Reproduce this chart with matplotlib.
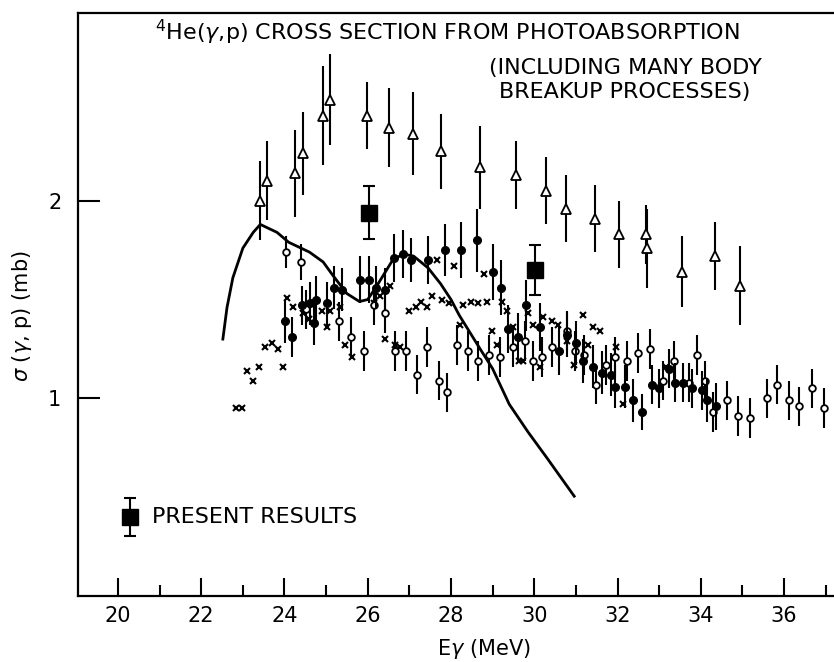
import matplotlib.pyplot as plt
from matplotlib.ticker import FixedLocator

# theoretical curve (solid line)
curve_x = [22.52, 22.62, 22.76, 23.0, 23.25, 23.42, 23.82, 24.1, 24.6, 24.93, 25.17,
           25.5, 25.8, 26.0, 26.22, 26.6, 26.85, 27.1, 27.45, 27.75, 28.0, 28.2,
           28.7, 29.0, 29.4, 29.85, 30.3, 30.96]
curve_y = [1.30, 1.46, 1.61, 1.76, 1.84, 1.88, 1.84, 1.79, 1.74, 1.69, 1.62,
           1.53, 1.49, 1.50, 1.57, 1.70, 1.73, 1.72, 1.66, 1.58, 1.50, 1.42,
           1.25, 1.15, 0.97, 0.83, 0.70, 0.505]

# open triangles (photoabsorption incl. many body breakup)
tri_x = [23.41, 23.57, 24.25, 24.44, 24.92, 25.10, 25.99, 26.51, 27.09, 27.76, 28.69,
         29.57, 30.29, 30.76, 31.47, 32.03, 32.68, 32.71, 33.55, 34.33, 34.95]
tri_y = [2.00, 2.10, 2.14, 2.24, 2.43, 2.51, 2.43, 2.37, 2.34, 2.25, 2.17,
         2.13, 2.05, 1.96, 1.91, 1.83, 1.83, 1.76, 1.64, 1.72, 1.57]
tri_err = [0.20, 0.20, 0.22, 0.21, 0.25, 0.23, 0.17, 0.20, 0.21, 0.19, 0.21,
           0.17, 0.17, 0.17, 0.17, 0.17, 0.15, 0.20, 0.18, 0.17, 0.20]

# present results
sq_x = [26.03, 30.02]
sq_y = [1.94, 1.65]
sq_err = [0.135, 0.125]

# filled circles
fc_x = [24.02, 24.18, 24.43, 24.62, 24.76, 24.72, 25.02, 25.18, 25.38, 25.82, 26.02,
        26.20, 26.42, 26.64, 26.84, 27.05, 27.45, 27.86, 28.23, 28.63, 29.02, 29.20,
        29.80, 29.38, 29.60, 30.14, 30.60, 30.78, 31.00, 31.18, 31.40, 31.62, 31.85,
        31.95, 32.18, 32.36, 32.58, 32.82, 33.00, 33.24, 33.37, 33.58, 33.80, 34.02,
        34.16, 34.36]
fc_y = [1.39, 1.31, 1.47, 1.48, 1.50, 1.38, 1.48, 1.56, 1.55, 1.60, 1.60,
        1.56, 1.55, 1.71, 1.73, 1.70, 1.70, 1.75, 1.75, 1.80, 1.64, 1.56,
        1.47, 1.35, 1.31, 1.36, 1.24, 1.32, 1.28, 1.19, 1.16, 1.13, 1.12,
        1.06, 1.06, 0.99, 0.93, 1.07, 1.05, 1.15, 1.08, 1.08, 1.05, 1.04,
        0.99, 0.96]
fc_err = [0.11, 0.10, 0.10, 0.11, 0.12, 0.11, 0.11, 0.11, 0.11, 0.12, 0.12,
          0.11, 0.11, 0.12, 0.12, 0.11, 0.12, 0.13, 0.14, 0.16, 0.14, 0.14,
          0.13, 0.12, 0.12, 0.12, 0.12, 0.11, 0.11, 0.11, 0.11, 0.11, 0.11,
          0.11, 0.11, 0.11, 0.09, 0.10, 0.10, 0.10, 0.10, 0.10, 0.10, 0.10,
          0.11, 0.12]

# open circles
oc_x = [24.04, 24.40, 24.52, 25.31, 25.61, 25.90, 26.14, 26.41, 26.66, 26.93, 27.18,
        27.43, 27.71, 27.91, 28.15, 28.41, 28.65, 28.92, 29.18, 29.48, 29.78, 29.97,
        30.18, 30.42, 30.79, 30.98, 31.19, 31.49, 31.72, 31.95, 32.23, 32.48, 32.79,
        33.10, 33.35, 33.72, 33.90, 34.09, 34.30, 34.62, 34.89, 35.19, 35.58, 35.82,
        36.13, 36.37, 36.67, 36.95]
oc_y = [1.74, 1.69, 1.45, 1.39, 1.31, 1.24, 1.47, 1.43, 1.24, 1.24, 1.12,
        1.26, 1.09, 1.03, 1.27, 1.24, 1.19, 1.22, 1.21, 1.26, 1.29, 1.19,
        1.21, 1.26, 1.34, 1.24, 1.22, 1.07, 1.17, 1.21, 1.19, 1.23, 1.25,
        1.09, 1.19, 1.08, 1.22, 1.09, 0.93, 0.99, 0.91, 0.90, 1.00, 1.07,
        0.99, 0.96, 1.05, 0.95]
oc_err = [0.08, 0.09, 0.10, 0.10, 0.10, 0.10, 0.10, 0.10, 0.10, 0.10, 0.10,
          0.10, 0.10, 0.10, 0.10, 0.10, 0.10, 0.10, 0.10, 0.10, 0.10, 0.10,
          0.10, 0.10, 0.10, 0.10, 0.10, 0.10, 0.10, 0.10, 0.10, 0.10, 0.10,
          0.10, 0.10, 0.10, 0.10, 0.10, 0.10, 0.10, 0.10, 0.10, 0.10, 0.10,
          0.10, 0.10, 0.10, 0.10]

# crosses (no error bars)
xx_x = [22.84, 22.97, 23.09, 23.24, 23.39, 23.53, 23.69, 23.84, 23.97, 24.06, 24.21,
        24.45, 24.60, 24.90, 25.02, 25.10, 25.34, 25.46, 25.63, 26.14, 26.30, 26.53,
        26.42, 26.66, 26.78, 26.98, 27.15, 27.29, 27.43, 27.55, 27.67, 27.79, 27.95,
        28.08, 28.22, 28.30, 28.48, 28.66, 28.86, 28.80, 28.99, 29.11, 29.22, 29.35,
        29.50, 29.63, 29.73, 29.85, 29.97, 30.13, 30.22, 30.42, 30.57, 30.78, 30.96,
        31.18, 31.30, 31.42, 31.59, 31.97, 32.12, 33.17]
xx_y = [0.95, 0.95, 1.14, 1.09, 1.16, 1.26, 1.28, 1.25, 1.16, 1.51, 1.46,
        1.43, 1.40, 1.44, 1.36, 1.44, 1.46, 1.27, 1.21, 1.48, 1.52, 1.57,
        1.30, 1.27, 1.26, 1.44, 1.46, 1.49, 1.46, 1.52, 1.70, 1.50, 1.48,
        1.67, 1.37, 1.47, 1.49, 1.48, 1.49, 1.63, 1.34, 1.27, 1.49, 1.44,
        1.36, 1.19, 1.19, 1.43, 1.37, 1.16, 1.41, 1.39, 1.37, 1.29, 1.17,
        1.42, 1.27, 1.36, 1.34, 1.26, 0.97, 1.16]

x_major = [20, 22, 24, 26, 28, 30, 32, 34, 36]
x_minor = [21, 23, 25, 27, 29, 31, 33, 35, 37]
y_major = [1, 2]


def draw(ax):
    eb = dict(ecolor="black", elinewidth=1.5, capsize=0, linestyle="none")
    ax.errorbar(oc_x, oc_y, yerr=oc_err, fmt="o", ms=4.8, mfc="white",
                mec="black", mew=1.3, zorder=3, **eb)
    ax.plot(xx_x, xx_y, "x", ms=4.5, mew=1.5, color="black", zorder=3)
    ax.errorbar(fc_x, fc_y, yerr=fc_err, fmt="o", ms=5.5, mfc="black",
                mec="black", zorder=4, **eb)
    ax.errorbar(tri_x, tri_y, yerr=tri_err, fmt="^", ms=7.5, mfc="white",
                mec="black", mew=1.3, zorder=4, **eb)
    ax.errorbar(sq_x, sq_y, yerr=sq_err, fmt="s", ms=11, mfc="black", mec="black",
                ecolor="black", elinewidth=1.5, capsize=4, capthick=1.5,
                linestyle="none", zorder=5)
    ax.plot(curve_x, curve_y, "-", color="black", lw=2.0, zorder=6)

    # legend entry
    ax.errorbar([20.3], [0.40], yerr=[0.097], fmt="s", ms=11, mfc="black",
                mec="black", ecolor="black", elinewidth=1.5, capsize=4,
                capthick=1.5, linestyle="none")
    ax.text(20.82, 0.40, "PRESENT RESULTS", fontsize=16, va="center", ha="left")

    ax.text(0.488, 0.966, r"$^{4}$He($\gamma$,p) CROSS SECTION FROM PHOTOABSORPTION",
            transform=ax.transAxes, fontsize=16, ha="center", va="center")
    ax.text(0.7235, 0.906, "(INCLUDING MANY BODY", transform=ax.transAxes,
            fontsize=16, ha="center", va="center")
    ax.text(0.7235, 0.865, "BREAKUP PROCESSES)", transform=ax.transAxes,
            fontsize=16, ha="center", va="center")


fig = plt.figure(figsize=(8.34, 6.62), dpi=100)
ax = fig.add_axes([0.0935, 0.0997, 0.9065, 0.8807])
draw(ax)

ax.set_xlim(19.04, 37.2)
ax.set_ylim(0, 2.95)
ax.xaxis.set_major_locator(FixedLocator(x_major))
ax.xaxis.set_minor_locator(FixedLocator(x_minor))
ax.yaxis.set_major_locator(FixedLocator(y_major))
ax.set_yticklabels(["1", "2"])
ax.tick_params(axis="x", which="major", direction="in", length=13, width=1.5,
               labelsize=15, pad=7)
ax.tick_params(axis="x", which="minor", direction="in", length=8, width=1.5)
ax.tick_params(axis="y", which="major", direction="in", length=16, width=1.5,
               labelsize=15, pad=12)
ax.spines["right"].set_visible(False)
for s in ["left", "top", "bottom"]:
    ax.spines[s].set_linewidth(1.6)

ax.set_xlabel(r"E$\gamma$ (MeV)", fontsize=15)
ax.xaxis.set_label_coords(0.537, -0.07)
ax.set_ylabel(r"$\sigma$ ($\gamma$, p) (mb)", fontsize=15)
ax.yaxis.set_label_coords(-0.058, 0.48)

fig.savefig("out.png", dpi=100)
